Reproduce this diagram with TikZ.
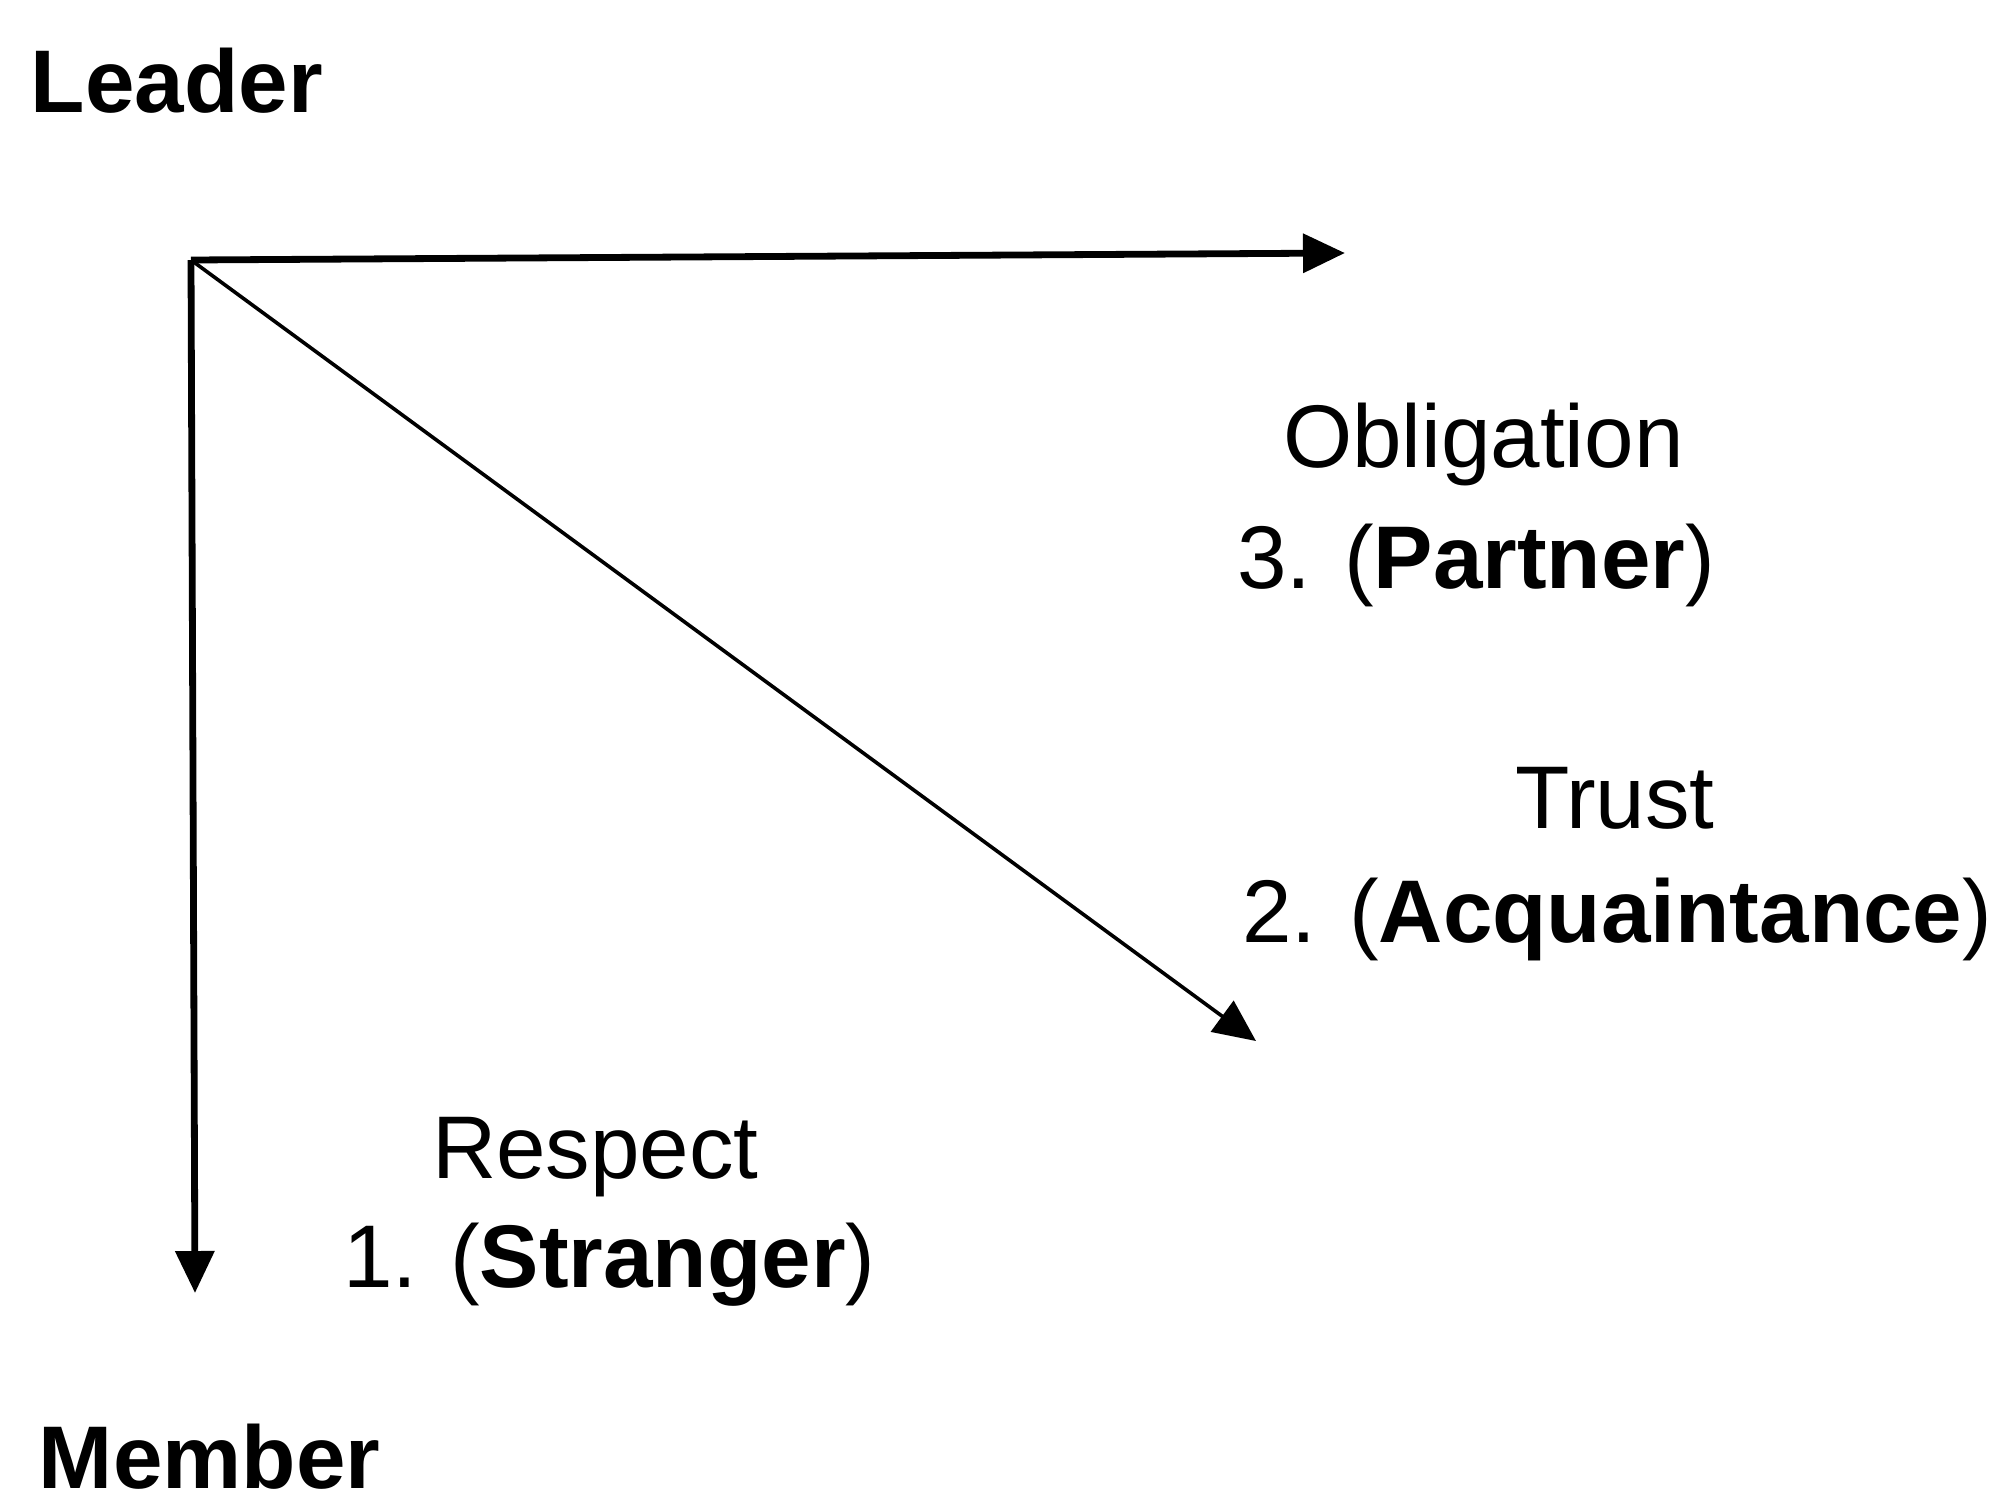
\documentclass[tikz,border=0pt]{standalone}
\usepackage{fontspec}
\setmainfont{Liberation Sans}
\usetikzlibrary{arrows.meta}
\begin{document}
\begin{tikzpicture}[x=0.5pt,y=-0.5pt,
  lbl/.style={anchor=base west, inner sep=0pt, outer sep=0pt, font=\fontsize{44.5}{50}\selectfont},
  axisline/.style={line width=3.4pt, -{Triangle[length=21pt,width=19pt]}},
  diagline/.style={line width=1.8pt, -{Triangle[length=21pt,width=19pt]}}]
\useasboundingbox[fill=white] (0,0) rectangle (1998,1501);
\coordinate (O) at (191,260);
\coordinate (H) at (1345,253);
\coordinate (V) at (195,1293);
\coordinate (D) at (1256,1041);
\draw[axisline] (O) -- (H);
\draw[axisline] (O) -- (V);
\draw[diagline] (O) -- (D);
\node[lbl] (leader) at (31,112) {\textbf{Leader}};
\node[lbl] (member) at (39,1488) {\textbf{Member}};
\node[lbl] (obl) at (1283,467) {Obligation};
\node[lbl] (partner) at (1237,588) {3. (\textbf{Partner})};
\node[lbl] (trust) at (1515,828) {Trust};
\node[lbl] (acq) at (1242,942) {2. (\textbf{Acquaintance})};
\node[lbl] (resp) at (432,1178) {Respect};
\node[lbl] (stranger) at (343,1287) {1. (\textbf{Stranger})};
\end{tikzpicture}
\end{document}
